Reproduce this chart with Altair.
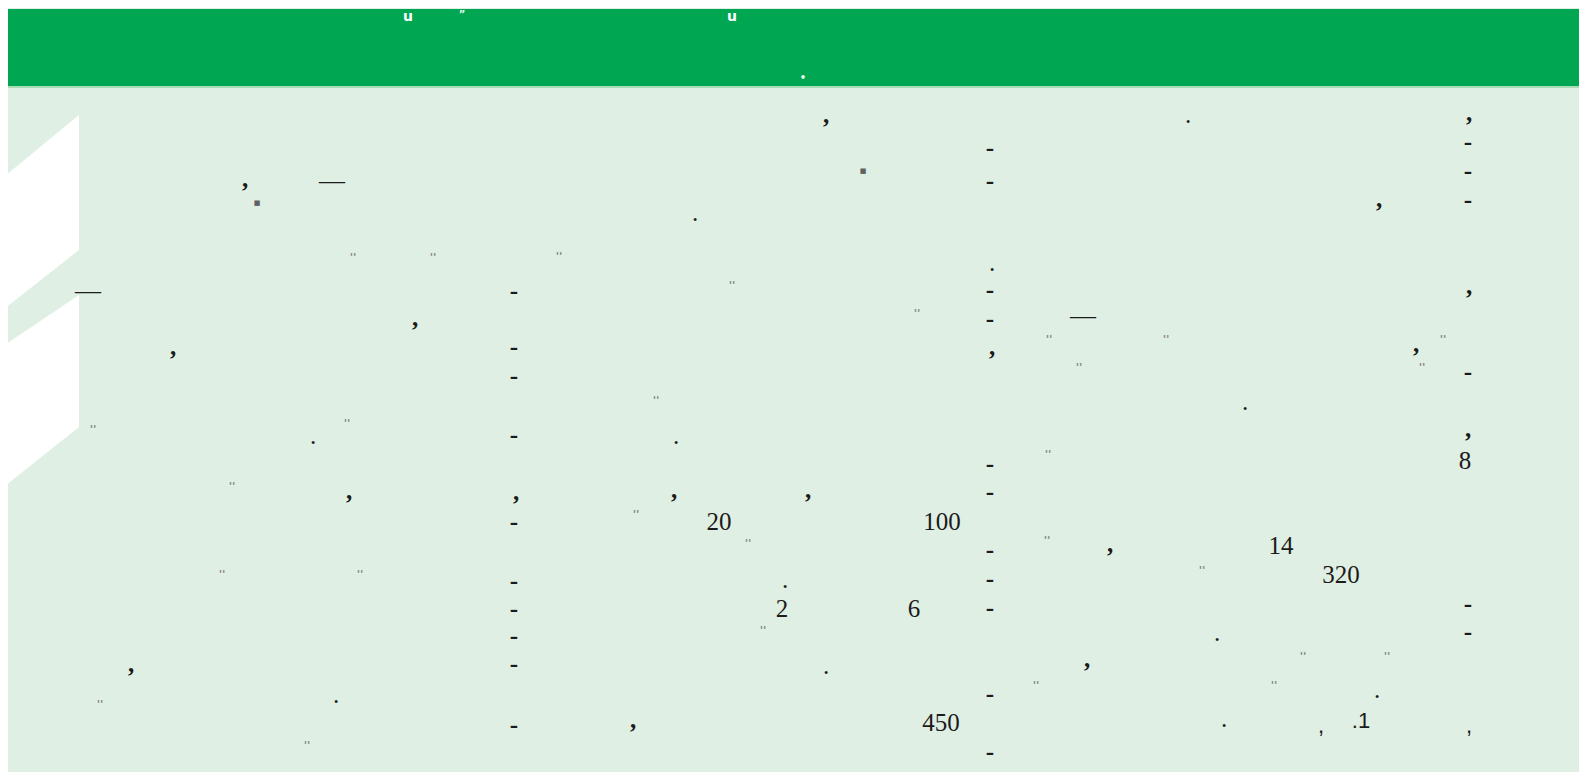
import altair as alt
import pandas as pd

# ---- data (reference pixel coordinates) ----
band_x = [0, 1587]; band_y = [9, 86]
band_edge_y = [86, 88]

shape_id = ["a", "a", "b", "b"]
shape_x = [0, 79, 0, 79]
shape_top = [180, 115, 348, 295]
shape_bottom = [312, 250, 490, 427]

comma_x = [245, 826, 173, 415, 349, 516, 674, 808, 131, 633, 1469, 1379, 1469, 992, 1416, 1468, 1110, 1087]
comma_y = [188, 124, 356, 327, 500, 501, 499, 499, 673, 729, 122, 208, 295, 356, 353, 438, 553, 668]

period_x = [313, 336, 695, 676, 785, 826, 992, 1188, 1245, 1217, 1377, 1224]
period_y = [442, 701, 219, 442, 586, 672, 269, 121, 408, 639, 696, 725]

hyphen_x = [514] * 10 + [990] * 11 + [1468] * 6
hyphen_y = [293, 349, 378, 437, 524, 583, 611, 638, 666, 727,
            150, 183, 292, 321, 466, 494, 552, 581, 610, 696, 754,
            144, 173, 202, 374, 606, 634]

dash_x = [88, 332, 1083]
dash_y = [293, 183, 318]

num_text = ["20", "100", "2", "6", "450", "8", "14", "320"]
num_x = [719, 942, 782, 914, 941, 1465, 1281, 1341]
num_y = [521, 521, 608, 608, 722, 460, 545, 574]

sans_text = [".1", ",", ","]
sans_x = [1361, 1321, 1469]
sans_y = [720, 725, 725]

blob_x = [257, 863]
blob_y = [203, 171]

faint_x = [353, 433, 559, 732, 917, 93, 347, 656, 232, 636, 748, 222, 360, 763, 100, 307,
           1049, 1166, 1443, 1079, 1422, 1048, 1047, 1202, 1303, 1387, 1036, 1274]
faint_y = [255, 255, 254, 283, 311, 427, 421, 398, 484, 512, 541, 572, 572, 628, 702, 743,
           337, 337, 337, 365, 365, 452, 538, 568, 654, 654, 683, 683]

head_text = ["u", "u"]
head_x = [408, 732]
head_y = [21, 21]
head_small_text = ["\u201d", "\u2022"]
head_small_x = [462, 803]
head_small_y = [15, 78]

# ---- scales ----
X0, X1 = 8, 1579
Y0, Y1 = 8, 772
xs = alt.Scale(domain=[X0, X1], nice=False, zero=False)
ys = alt.Scale(domain=[Y0, Y1], nice=False, zero=False, reverse=True)

def X(f="x"):
    return alt.X(f + ":Q", scale=xs, axis=None)

def Y(f="y"):
    return alt.Y(f + ":Q", scale=ys, axis=None)

SERIF = "Liberation Serif"
SANS = "Liberation Sans"
INK = "#1b1b1b"
FS = 25

band = alt.Chart(pd.DataFrame({"x": [band_x[0]], "x2": [band_x[1]], "y": [band_y[0]], "y2": [band_y[1]]})).mark_rect(
    color="#00a651", clip=True).encode(x=X(), x2="x2:Q", y=Y(), y2="y2:Q")
band_edge = alt.Chart(pd.DataFrame({"x": [band_x[0]], "x2": [band_x[1]], "y": [band_edge_y[0]], "y2": [band_edge_y[1]]})).mark_rect(
    color="#a9dcb5", clip=True).encode(x=X(), x2="x2:Q", y=Y(), y2="y2:Q")

shapes = alt.Chart(pd.DataFrame({"s": shape_id, "x": shape_x, "y": shape_top, "y2": shape_bottom})).mark_area(
    color="#ffffff", clip=True, opacity=1).encode(x=X(), y=Y(), y2="y2:Q", detail="s:N")

def text_layer(texts, xs_, ys_, font, size, dy, color=INK, weight="normal", opacity=1.0,
               baseline="alphabetic", clip=True):
    df = pd.DataFrame({"t": texts, "x": xs_, "y": ys_})
    return alt.Chart(df).mark_text(font=font, fontSize=size, dy=dy, color=color, fontWeight=weight,
                                   opacity=opacity, baseline=baseline, align="center", clip=clip).encode(
        x=X(), y=Y(), text="t:N")

commas = text_layer([","] * len(comma_x), comma_x, comma_y, SERIF, FS, -1.5, weight="bold")
periods = text_layer(["."] * len(period_x), period_x, period_y, SERIF, FS, 1.5)
hyphens = text_layer(["-"] * len(hyphen_x), hyphen_x, hyphen_y, SERIF, FS, 5.75, weight="bold")
dashes = text_layer(["\u2014"] * len(dash_x), dash_x, dash_y, SERIF, 26, 6)
nums = text_layer(num_text, num_x, num_y, SERIF, FS, 8.5)
sans = text_layer(sans_text, sans_x, sans_y, SANS, 22, 7.9)
blobs = text_layer(["\u25a0"] * len(blob_x), blob_x, blob_y, "DejaVu Sans", 7, 0, color="#4a4a4a",
                   opacity=0.85, baseline="middle")
faint = text_layer(["''"] * len(faint_x), faint_x, faint_y, "DejaVu Sans", 11, 3, color="#6f6f6f",
                   opacity=0.8, weight="bold", baseline="middle")
head = text_layer(head_text, head_x, head_y, "DejaVu Sans", 14, 0, color="#ffffff", weight="bold", clip=False)
head_small = text_layer(head_small_text, head_small_x, head_small_y, "DejaVu Sans", 10, 0, color="#e8f6ec",
                        weight="bold", baseline="middle", clip=False)

chart = alt.layer(band, band_edge, shapes, faint, blobs, commas, periods, hyphens, dashes, nums, sans,
                  head, head_small).properties(
    width=X1 - X0, height=Y1 - Y0, background="#e0efe3", padding=0,
    autosize=alt.AutoSizeParams(type="fit", contains="padding"),
).configure_view(stroke=None)

chart.save("out.html", embed_options={"renderer": "svg", "actions": False})
